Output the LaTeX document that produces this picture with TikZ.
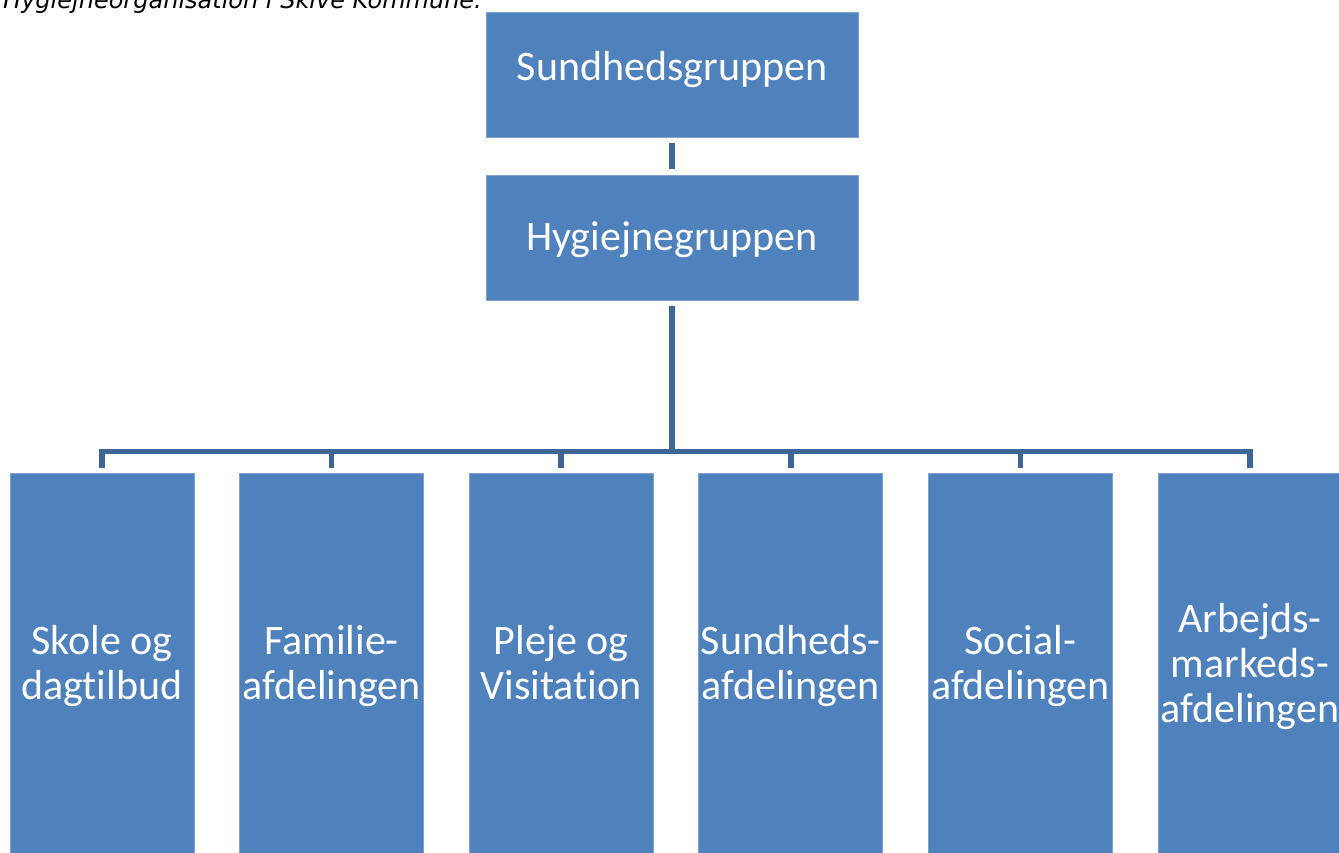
\documentclass[tikz,border=0pt]{standalone}
\usepackage{fontspec}
\setmainfont{Carlito}[Ligatures={NoCommon,NoContextual}]
\newfontfamily\capfont{DejaVu Sans}
\definecolor{boxblue}{HTML}{4F81BD}
\definecolor{boxedge}{HTML}{7FA2CF}
\definecolor{linkblue}{HTML}{3D6595}
\begin{document}
\begin{tikzpicture}[x=1pt,y=-1pt,
  orgbox/.style={rectangle,fill=boxblue,draw=boxedge,line width=0.8pt,inner sep=0pt},
  topbox/.style={orgbox,minimum width=372pt,minimum height=125pt},
  unitbox/.style={orgbox,minimum width=184pt,minimum height=390pt,anchor=north},
  boxtext/.style={text=white,inner sep=0pt,align=center,font=\fontsize{42}{45}\selectfont},
  link/.style={draw=linkblue,line width=5.5pt},
  caption/.style={inner sep=0pt,anchor=base east,font=\capfont\itshape\fontsize{24}{28}\selectfont}]
\useasboundingbox (0,0) rectangle (1339,852);
\clip (0,0) rectangle (1339,852);

\node[caption] (cap) at (482,8) {Hygiejneorganisation i Skive Kommune.};

\node[topbox] (sund) at (672,74.5) {};
\node[boxtext] (sundt) at (672,71) {\strut Sundhedsgruppen};
\node[topbox] (hyg) at (672,237.5) {};
\node[boxtext] (hygt) at (672,241) {\strut Hygiejnegruppen};

\node[unitbox] (b1) at (102,473) {};
\node[unitbox] (b2) at (331.6,473) {};
\node[unitbox] (b3) at (561.2,473) {};
\node[unitbox] (b4) at (790.8,473) {};
\node[unitbox] (b5) at (1020.4,473) {};
\node[unitbox] (b6) at (1250,473) {};

\node[boxtext] (t1) at (102,668) {\strut Skole og\\\strut dagtilbud};
\node[boxtext] (t2) at (331.6,668) {\strut Familie-\\\strut afdelingen};
\node[boxtext] (t3) at (561.2,668) {\strut Pleje og\\\strut Visitation};
\node[boxtext] (t4) at (790.8,668) {\strut Sundheds-\\\strut afdelingen};
\node[boxtext] (t5) at (1020.4,668) {\strut Social-\\\strut afdelingen};
\node[boxtext] (t6) at (1250,668) {\strut Arbejds-\\\strut markeds-\\\strut afdelingen};

\draw[link,line width=6pt,shorten <=6pt,shorten >=6pt] (sund.south) -- (hyg.north);
\foreach \b in {b1,b2,b3,b4,b5,b6}{
  \draw[link,shorten <=6pt,shorten >=5pt] (hyg.south) -- ++(0,151) -| (\b.north);
}
\end{tikzpicture}
\end{document}
